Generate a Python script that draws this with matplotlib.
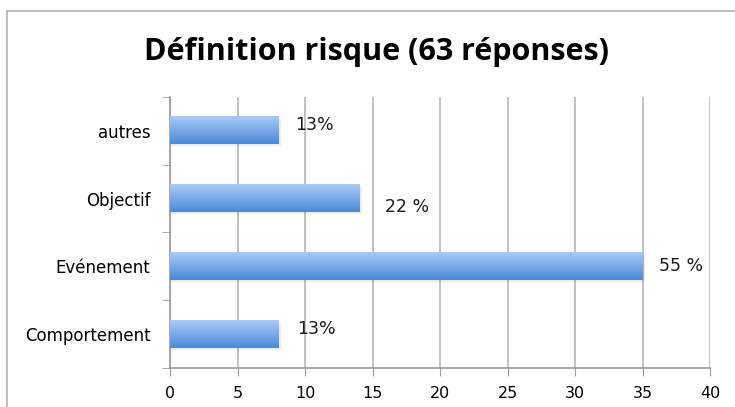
import numpy as np
import matplotlib.pyplot as plt
from matplotlib.patches import Rectangle

categories = ['Comportement', 'Evénement', 'Objectif', 'autres']
values = [8, 35, 14, 8]
labels = ['13%', '55 %', '22 %', '13%']
# small offsets of the labels (x in data units, y in category units)
label_dx = [1.4, 1.2, 1.9, 1.3]
label_dy = [0.08, 0.0, -0.12, 0.08]

fig = plt.figure(figsize=(7.35, 4.07), dpi=100)
ax = fig.add_axes([0.2313, 0.0958, 0.7347, 0.6659])

# outer chart frame (left and top edges visible)
fig.add_artist(Rectangle((7 / 735, -0.1), 1.2, (407 - 11) / 407 + 0.1,
                         transform=fig.transFigure, fill=False,
                         edgecolor='#b3b3b3', linewidth=1.2))

y = np.arange(len(categories))
bars = ax.barh(y, values, height=0.4, color='none', edgecolor='none')

grad = np.linspace(0, 1, 64).reshape(-1, 1)
cmap = plt.matplotlib.colors.LinearSegmentedColormap.from_list(
    'bar', ['#4a8ad8', '#7aaae8', '#a9cbf5'])
for b in bars:
    x0, y0, w, h = b.get_x(), b.get_y(), b.get_width(), b.get_height()
    # soft shadow
    ax.add_patch(Rectangle((x0, y0 - 0.03), w + 0.2, h, color='#000000',
                           alpha=0.08, zorder=2, linewidth=0))
    ax.imshow(grad, extent=(x0, x0 + w, y0, y0 + h), origin='lower',
              cmap=cmap, aspect='auto', zorder=3)

for i, (v, t) in enumerate(zip(values, labels)):
    ax.text(v + label_dx[i], i + label_dy[i], t, va='center', ha='left',
            fontsize=12.5, color='#1a1a1a', family='DejaVu Sans')

ax.set_xlim(0, 40)
ax.set_ylim(-0.5, len(categories) - 0.5)
ax.set_xticks(range(0, 45, 5))
ax.set_yticks(y)
ax.set_yticklabels(categories)
ax.set_yticks(np.arange(-0.5, len(categories), 1), minor=True)
ax.tick_params(axis='y', which='major', length=0, pad=14, labelsize=12)
ax.tick_params(axis='y', which='minor', length=6, color='#9a9a9a',
               direction='out')
ax.tick_params(axis='x', length=6, color='#9a9a9a', labelsize=11.5, pad=7)
ax.grid(axis='x', color='#b8b8b8', linewidth=1.2, zorder=0)
ax.set_axisbelow(True)
for s in ['top', 'right']:
    ax.spines[s].set_visible(False)
for s in ['left', 'bottom']:
    ax.spines[s].set_color('#9a9a9a')
    ax.spines[s].set_linewidth(1.2)

fig.text(376 / 735, 1 - 52 / 407, 'Définition risque (63 réponses)',
         ha='center', va='center', fontsize=22, fontweight='bold',
         family='Open Sans')

fig.savefig('out.png', dpi=100)
